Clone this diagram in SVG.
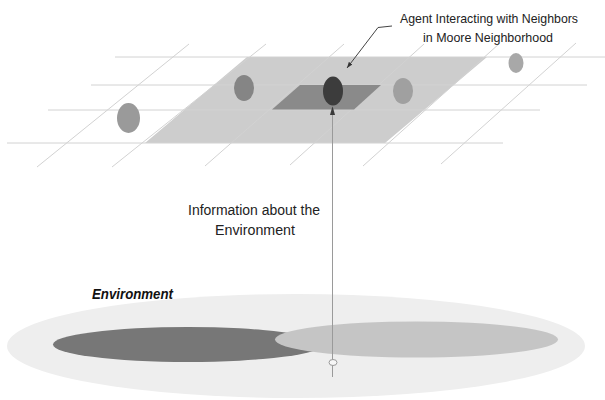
<svg xmlns="http://www.w3.org/2000/svg" width="605" height="400" viewBox="0 0 605 400">
<defs>
<style>
.grid line{stroke:#d2d2d2;stroke-width:1;fill:none}
.lbl{font-family:"Liberation Sans",Arial,sans-serif;fill:#222}
.env{font-family:"Liberation Sans",Arial,sans-serif;font-weight:bold;font-style:italic;fill:#111}
.conn{fill:none;stroke-width:1}
</style>
<marker id="arrUp" viewBox="0 0 9 6" refX="9" refY="3" markerWidth="9" markerHeight="6" markerUnits="userSpaceOnUse" orient="auto">
<path d="M0,0.5 L9,3 L0,5.5 Z" fill="#3a3a3a"/>
</marker>
<marker id="arrLead" viewBox="0 0 8 6" refX="8" refY="3" markerWidth="6" markerHeight="5" markerUnits="userSpaceOnUse" orient="auto">
<path d="M0,0 L8,3 L0,6 Z" fill="#333"/>
</marker>
</defs>
<rect width="605" height="400" fill="#ffffff"/>

<g id="environment">
<ellipse cx="296" cy="346" rx="289" ry="52" fill="#eeeeee"/>
<ellipse cx="188" cy="344.5" rx="135" ry="17.5" fill="#777777"/>
<ellipse cx="416.5" cy="339.5" rx="141.5" ry="18" fill="#c5c5c5"/>
<text class="env" x="92" y="299" font-size="14" textLength="81" lengthAdjust="spacingAndGlyphs">Environment</text>
</g>

<g id="neighborhood">
<polygon points="247,57 487,57 385,143 145,143" fill="#cdcdcd"/>
</g>

<g id="grid" class="grid">
<line x1="115" y1="57" x2="605" y2="57"/>
<line x1="91" y1="85" x2="587" y2="85"/>
<line x1="48" y1="110" x2="540" y2="110"/>
<line x1="7" y1="143" x2="503" y2="143"/>
<line x1="37" y1="167" x2="189" y2="44"/>
<line x1="112" y1="167" x2="266" y2="44"/>
<line x1="205" y1="166" x2="344" y2="44"/>
<line x1="290" y1="165" x2="424" y2="44"/>
<line x1="363" y1="166" x2="500" y2="43"/>
<line x1="441" y1="164" x2="576" y2="43"/>
</g>

<g id="agent-cell">
<polygon points="300,85 381,85 354,109.5 272,109.5" fill="#8a8a8a"/>
</g>

<g id="agent-left"><ellipse cx="128.5" cy="118" rx="11.5" ry="15" fill="#9a9a9a"/></g>
<g id="agent-neighbor-1"><ellipse cx="244" cy="88" rx="10" ry="13" fill="#858585"/></g>
<g id="agent-center"><ellipse cx="333" cy="91" rx="10" ry="14.5" fill="#3c3c3c"/></g>
<g id="agent-neighbor-2"><ellipse cx="403" cy="91" rx="10" ry="13" fill="#a0a0a0"/></g>
<g id="agent-far"><ellipse cx="516" cy="63" rx="7.5" ry="10" fill="#a8a8a8"/></g>

<g id="label-agent">
<text class="lbl" x="489" y="23" font-size="13" text-anchor="middle" textLength="178" lengthAdjust="spacingAndGlyphs">Agent Interacting with Neighbors</text>
<text class="lbl" x="488" y="42" font-size="13" text-anchor="middle" textLength="130" lengthAdjust="spacingAndGlyphs">in Moore Neighborhood</text>
</g>

<g id="label-info">
<text class="lbl" x="254" y="215" font-size="15.5" text-anchor="middle" textLength="132" lengthAdjust="spacingAndGlyphs">Information about the</text>
<text class="lbl" x="255" y="235" font-size="15.5" text-anchor="middle" textLength="80" lengthAdjust="spacingAndGlyphs">Environment</text>
</g>

<g id="connectors">
<polyline class="conn" points="392,26 378,27.5 347,68" stroke="#444" stroke-width="0.8" marker-end="url(#arrLead)"/>
<line class="conn" x1="332.5" y1="377" x2="332.5" y2="106" stroke="#9a9a9a" marker-end="url(#arrUp)"/>
<ellipse cx="333" cy="362.5" rx="4" ry="3" fill="#f6f6f6" stroke="#9a9a9a" stroke-width="1"/>
</g>
</svg>
